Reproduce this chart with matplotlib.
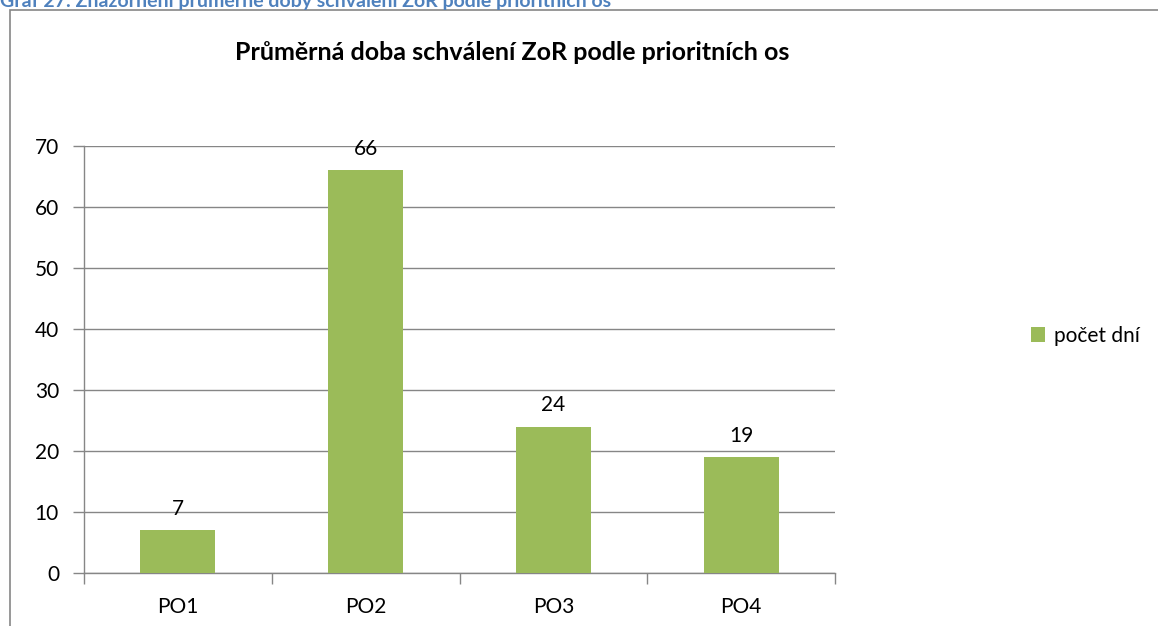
import matplotlib.pyplot as plt
from matplotlib.patches import Rectangle

categories = ['PO1', 'PO2', 'PO3', 'PO4']
days = [7, 66, 24, 19]
series_name = 'počet dní'
title = 'Průměrná doba schválení ZoR podle prioritních os'
caption = 'Graf 27: Znázornění průměrné doby schválení ZoR podle prioritních os'

plt.rcParams['font.family'] = ['Lato', 'DejaVu Sans']

W, H = 1158, 626
fig = plt.figure(figsize=(W / 100, H / 100), dpi=100)
fig.patch.set_facecolor('white')

# chart frame (runs off the right and bottom edges)
fig.patches.append(Rectangle((10 / W, -0.05), 1.2, 1 - 10 / H + 0.05,
                             transform=fig.transFigure, fill=False,
                             edgecolor='#868686', linewidth=1.2))

# caption above the frame, clipped at the top
fig.text(0 / W, 1 - 2 / H, caption, color='#4F81BD', fontsize=14,
         fontweight='bold', ha='left', va='center')

ax = fig.add_axes([84 / W, 1 - 573 / H, (835 - 84) / W, (573 - 146) / H])
x = range(len(categories))
bars = ax.bar(x, days, width=0.4, color='#9BBB59', label=series_name, zorder=3)

for b, v in zip(bars, days):
    ax.annotate(str(v), (b.get_x() + b.get_width() / 2, v), xytext=(0, 8),
                textcoords='offset points', ha='center', va='bottom',
                fontsize=15, color='black')

ax.set_xlim(-0.5, len(categories) - 0.5)
ax.set_ylim(0, 70)
ax.set_yticks(range(0, 71, 10))
ax.yaxis.grid(True, color='#868686', linewidth=1)
ax.set_axisbelow(True)

ax.set_xticks(list(x))
ax.set_xticklabels(categories)
ax.set_xticks([i - 0.5 for i in range(len(categories) + 1)], minor=True)
ax.tick_params(axis='x', which='major', length=0, pad=17, labelsize=15)
ax.tick_params(axis='x', which='minor', length=8, color='#868686', width=1)
ax.tick_params(axis='y', length=8, color='#868686', width=1, pad=10,
               labelsize=15)

for s in ['top', 'right']:
    ax.spines[s].set_visible(False)
for s in ['left', 'bottom']:
    ax.spines[s].set_color('#868686')
    ax.spines[s].set_linewidth(1)

fig.text(512 / W, 1 - 52 / H, title, fontsize=18, fontweight='bold',
         ha='center', va='center')

fig.legend(handles=[bars], labels=[series_name], loc='center left',
           bbox_to_anchor=(1012 / W, 1 - 336 / H), frameon=False,
           fontsize=15, handlelength=0.7, handleheight=0.7, handletextpad=0.4)

fig.savefig('out.png', dpi=100)
